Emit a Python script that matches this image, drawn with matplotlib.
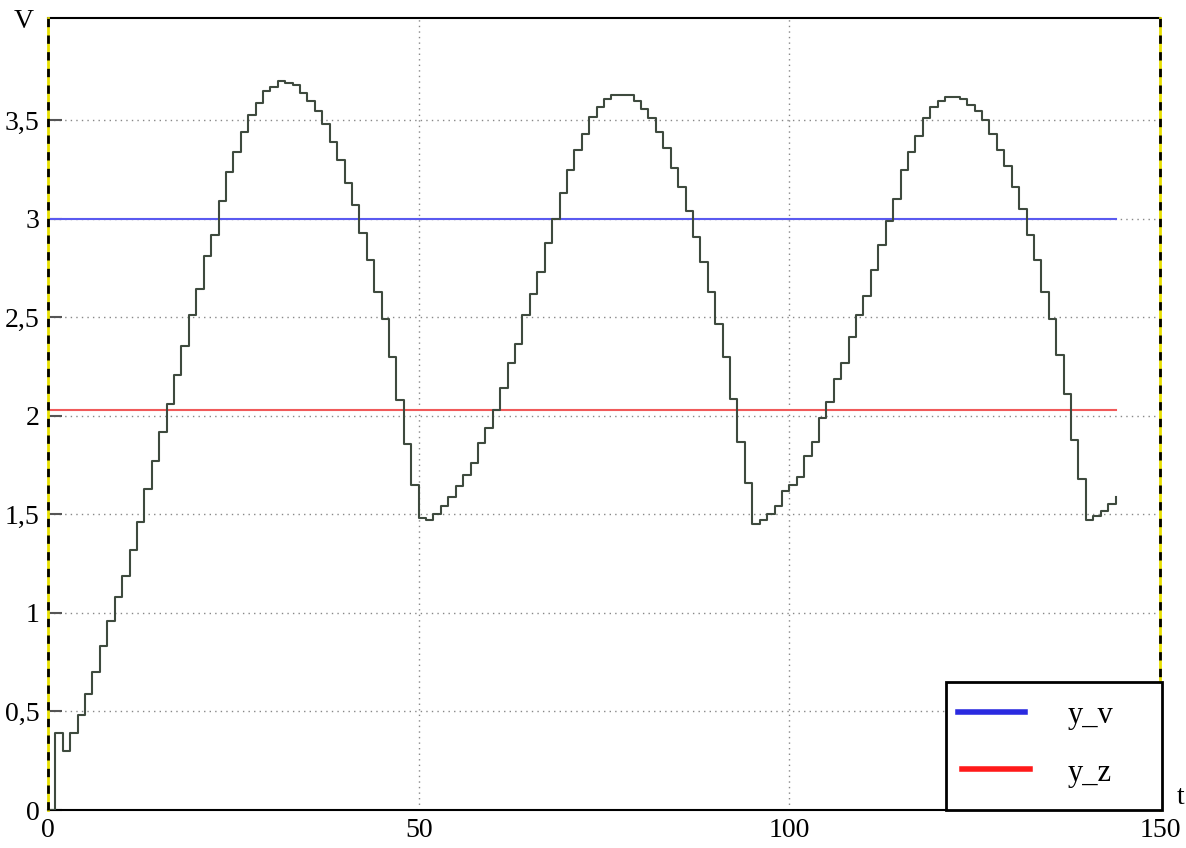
import matplotlib
matplotlib.use("Agg")
import matplotlib.pyplot as plt
from matplotlib.ticker import FixedLocator, FuncFormatter
from matplotlib.lines import Line2D
from matplotlib.patches import Rectangle

# sampled output signal (one value per time step, held until the next sample)
t = list(range(0, 145))
y = [
    0.00, 0.39, 0.30, 0.39, 0.48, 0.59, 0.70, 0.83, 0.96, 1.08,
    1.19, 1.32, 1.46, 1.63, 1.77, 1.92, 2.06, 2.21, 2.355, 2.51,
    2.645, 2.81, 2.92, 3.09, 3.24, 3.34, 3.44, 3.53, 3.59, 3.65,
    3.67, 3.70, 3.69, 3.68, 3.64, 3.60, 3.55, 3.48, 3.39, 3.30,
    3.18, 3.07, 2.93, 2.79, 2.63, 2.49, 2.30, 2.08, 1.86, 1.65,
    1.48, 1.47, 1.50, 1.545, 1.59, 1.645, 1.70, 1.76, 1.865, 1.94,
    2.03, 2.14, 2.27, 2.365, 2.51, 2.62, 2.73, 2.88, 3.00, 3.13,
    3.25, 3.35, 3.43, 3.52, 3.57, 3.61, 3.63, 3.63, 3.63, 3.60,
    3.56, 3.51, 3.44, 3.36, 3.26, 3.16, 3.04, 2.91, 2.78, 2.63,
    2.465, 2.30, 2.085, 1.87, 1.66, 1.45, 1.47, 1.50, 1.545, 1.62,
    1.65, 1.69, 1.795, 1.87, 1.99, 2.07, 2.19, 2.27, 2.40, 2.51,
    2.61, 2.74, 2.87, 2.99, 3.10, 3.25, 3.34, 3.42, 3.51, 3.57,
    3.60, 3.62, 3.62, 3.61, 3.58, 3.55, 3.50, 3.43, 3.35, 3.27,
    3.16, 3.05, 2.92, 2.79, 2.63, 2.49, 2.31, 2.11, 1.88, 1.68,
    1.47, 1.49, 1.52, 1.555, 1.59,
]

# reference levels
y_v = 3.0
y_z = 2.03
t_end = 144

x_ticks = [0, 50, 100, 150]
y_ticks = [0, 0.5, 1, 1.5, 2, 2.5, 3, 3.5]
legend_labels = ["y_v", "y_z"]

serif = ["Liberation Serif", "DejaVu Serif"]
W, H = 1186, 848


def fx(px):
    return px / W


def fy(py):
    return 1 - py / H


fig = plt.figure(figsize=(W / 100, H / 100), dpi=100)
ax = fig.add_axes([fx(48), fy(810), (1160 - 48) / W, (810 - 18) / H])

ax.plot(t, y, drawstyle="steps-post", color="#3e4a3e", lw=1.5, zorder=4)
ax.plot([0, t_end], [y_v, y_v], color="#5a5af0", lw=1.5, zorder=3)
ax.plot([0, t_end], [y_z, y_z], color="#f05a5a", lw=1.5, zorder=3)

ax.set_xlim(0, 150)
ax.set_ylim(0, 4.02)
ax.xaxis.set_major_locator(FixedLocator(x_ticks))
ax.yaxis.set_major_locator(FixedLocator(y_ticks))


def comma_fmt(v, pos):
    return f"{v:g}".replace(".", ",")


ax.yaxis.set_major_formatter(FuncFormatter(comma_fmt))
ax.xaxis.set_major_formatter(FuncFormatter(comma_fmt))

ax.grid(True, color="#888888", linestyle=(0, (1, 3)), lw=1.0)
ax.tick_params(axis="y", direction="in", length=10, width=1.5, color="#555555",
               pad=6, labelsize=20)
ax.tick_params(axis="x", direction="in", length=0, pad=6, labelsize=20)
for lab in ax.get_xticklabels() + ax.get_yticklabels():
    lab.set_fontfamily(serif)

# frame: solid top and bottom, black/yellow dashed sides
for side in ("top", "bottom"):
    ax.spines[side].set_color("black")
    ax.spines[side].set_linewidth(1.5)
for side in ("left", "right"):
    ax.spines[side].set_visible(False)
for xs in (0, 150):
    ax.plot([xs, xs], [0, 4.02], color="#e8e000", lw=2.0, clip_on=False, zorder=5)
    ax.plot([xs, xs], [0, 4.02], color="black", lw=2.0, linestyle=(0, (3, 3)),
            clip_on=False, zorder=6)

fig.text(fx(14), fy(22), "V", fontsize=20, family=serif, va="center", ha="left")
fig.text(fx(1177), fy(797), "t", fontsize=20, family=serif, va="center", ha="left")

# legend box in the lower right corner
fig.add_artist(Rectangle((fx(946), fy(810)), (1162 - 946) / W, (810 - 682) / H,
                         transform=fig.transFigure, facecolor="white",
                         edgecolor="black", lw=2.0, zorder=10))
for (x0, x1, yy), col, lab in zip([(958, 1025, 712), (962, 1030, 769)],
                                  ["#2a2ae0", "#ff1a1a"], legend_labels):
    fig.add_artist(Line2D([fx(x0), fx(x1)], [fy(yy), fy(yy)], color=col, lw=4.0,
                          transform=fig.transFigure, zorder=11))
    fig.text(fx(1068), fy(yy + 4), lab, fontsize=22, family=serif,
             va="center", ha="left", zorder=12)

fig.savefig("out.png", dpi=100)
